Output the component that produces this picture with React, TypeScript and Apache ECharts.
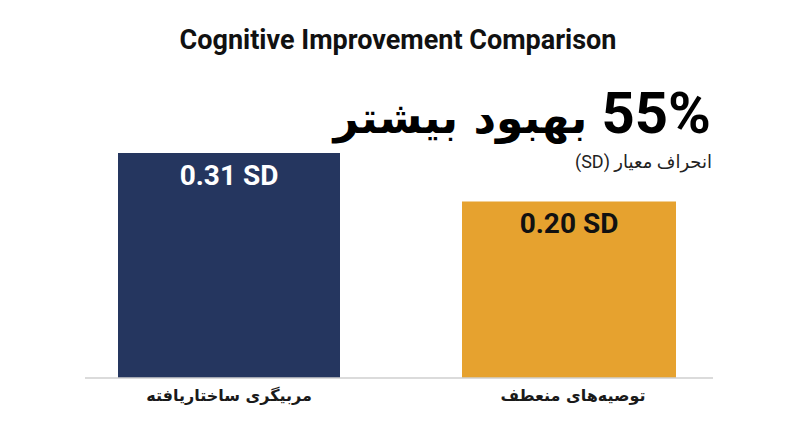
import React, { useEffect, useRef } from "react";
import * as echarts from "echarts";

const categories = ["مربیگری ساختاریافته", "توصیه‌های منعطف"];
const structuredValues = [0.31, null];
const flexibleValues = [null, 0.2];
const titleText = "Cognitive Improvement Comparison";
const headlineNumber = "55%";
const headlineWords = "بهبود بیشتر";
const subHeadline = "\u202Bانحراف معیار (SD)\u202C";

const NAVY = "#25365f";
const ORANGE = "#e6a22f";
const FONT = "Roboto, 'DejaVu Sans', sans-serif";
const AR_FONT = "'DejaVu Sans', sans-serif";

export default function App() {
  const ref = useRef<HTMLDivElement>(null);
  useEffect(() => {
    document.body.style.margin = "0";
    if (!ref.current) return;
    const chart = echarts.init(ref.current, null, { renderer: "svg" });
    const fmt = (p: any) => `${Number(p.value).toFixed(2)} SD`;
    const barLabel = (color: string) => ({
      show: true,
      position: "insideTop",
      distance: 8,
      formatter: fmt,
      color,
      fontSize: 28,
      fontWeight: "bold",
      fontFamily: FONT,
    });
    chart.setOption({
      animation: false,
      backgroundColor: "#ffffff",
      textStyle: { fontFamily: FONT },
      grid: { left: 57, right: 55, top: 113.4, bottom: 69, outerBoundsMode: "none" },
      xAxis: {
        type: "category",
        data: categories,
        axisLine: { show: false },
        axisTick: { show: false },
        axisLabel: {
          margin: 9,
          fontSize: 16,
          fontWeight: "bold",
          color: "#1a1a1a",
          fontFamily: AR_FONT,
        },
      },
      yAxis: {
        type: "value",
        min: -0.2,
        max: 0.4,
        startValue: -0.2,
        show: false,
        splitLine: { show: false },
      },
      series: [
        {
          type: "bar",
          data: flexibleValues,
          barWidth: 214,
          barGap: "-100%",
          itemStyle: { color: ORANGE },
          label: barLabel("#111111"),
        },
        {
          type: "bar",
          data: structuredValues,
          barWidth: 222,
          barGap: "-100%",
          itemStyle: { color: NAVY },
          label: barLabel("#ffffff"),
        },
      ],
      graphic: [
        {
          type: "line",
          shape: { x1: 85, y1: 378, x2: 713, y2: 378 },
          style: { stroke: "#cfcfcf", lineWidth: 1.5 },
          z: 10,
        },
        {
          type: "text",
          x: 398,
          y: 40,
          style: {
            text: titleText,
            textAlign: "center",
            textVerticalAlign: "middle",
            font: `bold 27px ${FONT}`,
            fill: "#111111",
          },
        },
        {
          type: "text",
          x: 711,
          y: 113,
          z: 20,
          style: {
            text: `{p|${headlineWords}}{n| ${headlineNumber}}`,
            textAlign: "right",
            textVerticalAlign: "middle",
            rich: {
              p: {
                fontFamily: AR_FONT,
                fontWeight: "bold",
                fontSize: 44,
                padding: [8, 0, 0, 0],
                fill: "#000000",
                color: "#000000",
              },
              n: {
                fontFamily: FONT,
                fontWeight: "bold",
                fontSize: 58,
                fill: "#000000",
                color: "#000000",
              },
            },
          },
        },
        {
          type: "text",
          x: 712,
          y: 161,
          style: {
            text: subHeadline,
            textAlign: "right",
            textVerticalAlign: "middle",
            font: `18px ${FONT}`,
            fill: "#222222",
          },
        },
      ],
    });
    return () => chart.dispose();
  }, []);
  return <div ref={ref} style={{ width: 800, height: 447 }} />;
}
